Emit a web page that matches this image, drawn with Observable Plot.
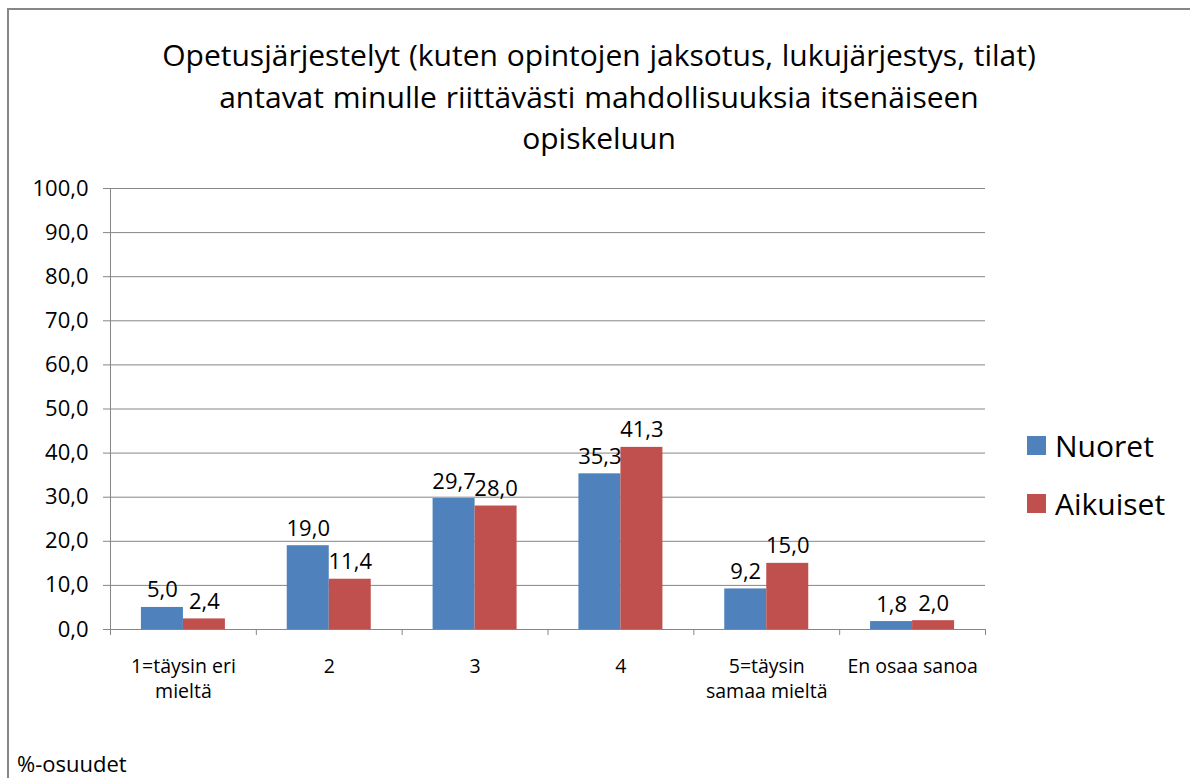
<!DOCTYPE html>
<html>
<head>
<meta charset="utf-8">
<script src="https://cdn.jsdelivr.net/npm/d3@7"></script>
<script src="https://cdn.jsdelivr.net/npm/@observablehq/plot@0.6"></script>
<style>
  html, body { margin: 0; padding: 0; background: #fff; }
  body { width: 1190px; height: 778px; overflow: hidden; position: relative; font-family: "Open Sans", sans-serif; color: #000; }
  #frame { position: absolute; left: 7px; top: 8px; width: 1200px; height: 800px; border-left: 2px solid #878787; border-top: 2px solid #878787; box-sizing: border-box; }
  #title { position: absolute; left: 0; width: 1198px; top: 34px; text-align: center; font-size: 30px; line-height: 41.5px; word-spacing: 1px; }
  #chart { position: absolute; left: 0; top: 170px; }
  #legend { position: absolute; left: 1027px; top: 425px; font-size: 30px; }
  .li { display: flex; align-items: center; height: 40px; margin-bottom: 18px; }
  .sw { width: 19px; height: 19px; margin-right: 9px; }
  #caption { position: absolute; left: 17px; top: 748px; font-size: 22px; }
</style>
</head>
<body>
<div id="frame"></div>
<div id="title">Opetusjärjestelyt (kuten opintojen jaksotus, lukujärjestys, tilat)<br>antavat minulle riittävästi mahdollisuuksia itsenäiseen<br>opiskeluun</div>
<div id="chart"></div>
<div id="legend"></div>
<div id="caption">%-osuudet</div>
<script>
const categories = ["1=täysin eri\nmieltä", "2", "3", "4", "5=täysin\nsamaa mieltä", "En osaa sanoa"];
const seriesNames = ["Nuoret", "Aikuiset"];
const nuoret = [5.0, 19.0, 29.7, 35.3, 9.2, 1.8];
const aikuiset = [2.4, 11.4, 28.0, 41.3, 15.0, 2.0];
const yTicks = [0, 10, 20, 30, 40, 50, 60, 70, 80, 90, 100];
const colors = ["#4F81BD", "#C0504D"];

const barW = 0.288;
const rows = [];
[nuoret, aikuiset].forEach((vals, s) => {
  vals.forEach((v, c) => {
    const x1 = c + 0.5 + (s - 1) * barW;
    rows.push({series: seriesNames[s], cat: c, value: v, x1, x2: x1 + barW, xm: x1 + barW / 2});
  });
});
const fmt = d => d.toFixed(1).replace(".", ",");

const chart = Plot.plot({
  width: 1190,
  height: 540,
  marginLeft: 110,
  marginRight: 205,
  marginTop: 18,
  marginBottom: 81,
  style: {fontFamily: "Open Sans, sans-serif", fontSize: "22px", color: "#000", background: "transparent"},
  x: {type: "linear", domain: [0, categories.length]},
  y: {domain: [0, 100]},
  color: {domain: seriesNames, range: colors},
  marks: [
    Plot.gridY(yTicks, {stroke: "#868686", strokeOpacity: 1, strokeWidth: 1}),
    Plot.rectY(rows, {x1: "x1", x2: "x2", y: "value", fill: "series"}),
    Plot.text(rows, {x: "xm", y: "value", text: d => fmt(d.value), dy: -10, lineAnchor: "bottom", fill: "#000", fontSize: 22}),
    Plot.ruleX([0], {y1: 0, y2: 100, stroke: "#868686"}),
    Plot.axisY(yTicks, {anchor: "left", tickSize: 7, tickPadding: 15, tickFormat: fmt, stroke: "#868686", fill: "#000", fontSize: 22, label: null}),
    Plot.axisX(d3.range(categories.length + 1), {anchor: "bottom", tickSize: 6, tickFormat: () => "", stroke: "#868686", label: null}),
    Plot.axisX(d3.range(categories.length).map(i => i + 0.5), {anchor: "bottom", tickSize: 0, tickPadding: 26, tickFormat: d => categories[Math.floor(d)], lineHeight: 1.26, fontSize: 19.5, fill: "#000", label: null})
  ]
});
document.getElementById("chart").appendChild(chart);

const legend = document.getElementById("legend");
seriesNames.forEach((n, i) => {
  const row = document.createElement("div");
  row.className = "li";
  const sw = document.createElement("div");
  sw.className = "sw";
  sw.style.background = colors[i];
  row.appendChild(sw);
  const t = document.createElement("span");
  t.textContent = n;
  row.appendChild(t);
  legend.appendChild(row);
});
</script>
</body>
</html>
